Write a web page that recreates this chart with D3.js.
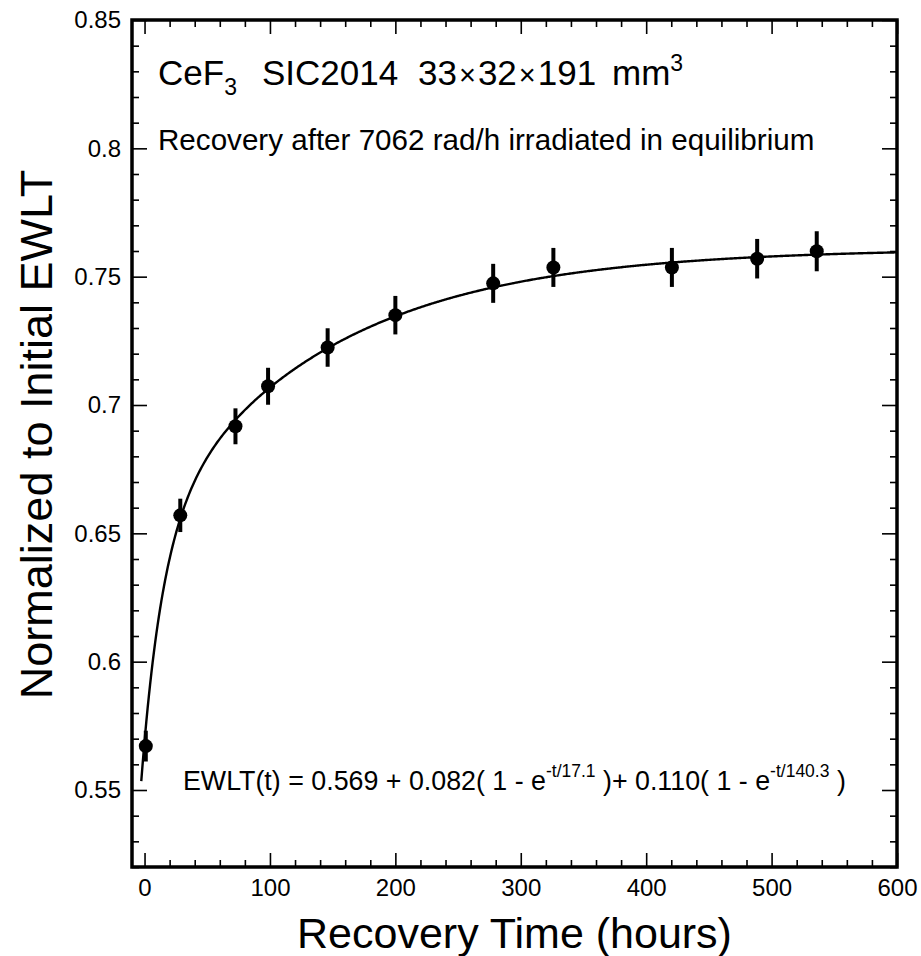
<!DOCTYPE html>
<html lang="en">
<head>
  <meta charset="UTF-8">
  <title>CeF3 recovery</title>
  <style>
    body { margin: 0; background: #fff; }
    text { font-family: "Liberation Sans", Arial, sans-serif; fill: #000; }
  </style>
</head>
<body>
<svg id="svg" width="921" height="956"></svg>
<script src="https://d3js.org/d3.v7.min.js"></script>
<script>
// data
const hours = [1, 28.5, 72.5, 98.5, 146, 200, 278, 326, 420.5, 488.5, 536]
const ewlt = [0.5671, 0.6570, 0.6917, 0.7073, 0.7224, 0.7350, 0.7474, 0.7536, 0.7536, 0.7570, 0.7599]
const errs = [0.006, 0.0065, 0.007, 0.0072, 0.0075, 0.0075, 0.0076, 0.0076, 0.0076, 0.0077, 0.0078]
// fit parameters printed on the chart: a0, a1, tau1, a2, tau2
const fitParams = [0.569, 0.082, 17.1, 0.110, 140.3]
const xTicks = [0, 100, 200, 300, 400, 500, 600]
const yTicks = [0.55, 0.6, 0.65, 0.7, 0.75, 0.8, 0.85]

const margin = { left: 132, top: 20, right: 24, bottom: 89 }
const W = 921, H = 956
const w = W - margin.left - margin.right
const h = H - margin.top - margin.bottom

const svg = d3.select('#svg')
const g = svg.append('g').attr('transform', `translate(${margin.left},${margin.top})`)

const x = d3.scaleLinear().domain([-10, 600]).range([0, w])
const y = d3.scaleLinear().domain([0.52, 0.85]).range([h, 0])

const xMinor = d3.range(0, 601, 20).filter(v => v % 100 !== 0)
const yMinor = d3.range(0.52, 0.851, 0.01).map(v => +v.toFixed(2)).filter(v => !yTicks.includes(v))

// minor ticks, all four sides, pointing inward
g.append('g').attr('transform', `translate(0,${h})`)
  .call(d3.axisBottom(x).tickValues(xMinor).tickSize(-7).tickFormat(''))
g.append('g')
  .call(d3.axisTop(x).tickValues(xMinor).tickSize(-7).tickFormat(''))
g.append('g')
  .call(d3.axisLeft(y).tickValues(yMinor).tickSize(-7).tickFormat(''))
g.append('g').attr('transform', `translate(${w},0)`)
  .call(d3.axisRight(y).tickValues(yMinor).tickSize(-7).tickFormat(''))

// major ticks
g.append('g').attr('transform', `translate(0,${h})`)
  .call(d3.axisBottom(x).tickValues(xTicks).tickSize(-14).tickPadding(12).tickFormat(d3.format('d')))
  .call(a => a.selectAll('text').style('font-size', '24px').attr('dy', '0.72em'))
g.append('g')
  .call(d3.axisTop(x).tickValues(xTicks).tickSize(-14).tickFormat(''))
g.append('g')
  .call(d3.axisLeft(y).tickValues(yTicks).tickSize(-15).tickPadding(11).tickFormat(d => String(d)))
  .call(a => a.selectAll('text').style('font-size', '24px'))
g.append('g').attr('transform', `translate(${w},0)`)
  .call(d3.axisRight(y).tickValues(yTicks).tickSize(-15).tickFormat(''))

g.selectAll('.domain').remove()
g.selectAll('.tick line').attr('stroke', '#000').attr('stroke-width', 1.6)
g.selectAll('.tick text').attr('fill', '#000').style('font-family', '"Liberation Sans", Arial, sans-serif')

// frame
g.append('rect')
  .attr('width', w).attr('height', h)
  .attr('fill', 'none').attr('stroke', '#000').attr('stroke-width', 3.5)

// fit curve from the printed equation
const fit = t => fitParams[0] + fitParams[1] * (1 - Math.exp(-t / fitParams[2])) + fitParams[3] * (1 - Math.exp(-t / fitParams[4]))
const tGrid = d3.range(-2.6, 600.01, 1)
g.append('path')
  .attr('d', d3.line().x(t => x(t)).y(t => y(fit(t))).curve(d3.curveMonotoneX)(tGrid))
  .attr('fill', 'none').attr('stroke', '#000').attr('stroke-width', 2.4)

const pts = hours.map((t, i) => ({ t: t, v: ewlt[i], e: errs[i] }))
const pg = g.append('g')
pg.selectAll('line').data(pts).enter().append('line')
  .attr('x1', d => x(d.t)).attr('x2', d => x(d.t))
  .attr('y1', d => y(d.v - d.e)).attr('y2', d => y(d.v + d.e))
  .attr('stroke', '#000').attr('stroke-width', 4)
pg.selectAll('circle').data(pts).enter().append('circle')
  .attr('cx', d => x(d.t)).attr('cy', d => y(d.v)).attr('r', 7)
  .attr('fill', '#000')

// axis titles
svg.append('text')
  .attr('x', margin.left + w / 2).attr('y', 948)
  .attr('text-anchor', 'middle').style('font-size', '43px')
  .text('Recovery Time (hours)')
svg.append('text')
  .attr('transform', `translate(52,${margin.top + h / 2 - 9}) rotate(-90)`)
  .attr('text-anchor', 'middle').style('font-size', '45px')
  .text('Normalized to Initial EWLT')

// annotations
const title = svg.append('text').attr('y', 85).style('font-size', '35px')
title.append('tspan').attr('x', 158).text('CeF')
title.append('tspan').attr('dy', 10).style('font-size', '23px').text('3')
title.append('tspan').attr('x', 262).attr('dy', -10).text('SIC2014')
title.append('tspan').attr('x', 418).text('33')
title.append('tspan').attr('dx', 2).style('font-size', '29px').text('\u00d7')
title.append('tspan').attr('dx', 2).text('32')
title.append('tspan').attr('dx', 2).style('font-size', '29px').text('\u00d7')
title.append('tspan').attr('dx', 2).text('191')
title.append('tspan').attr('x', 612).text('mm')
title.append('tspan').attr('dy', -14).style('font-size', '23px').text('3')

svg.append('text').attr('x', 158).attr('y', 150).style('font-size', '29.6px')
  .text('Recovery after 7062 rad/h irradiated in equilibrium')

const eq = svg.append('text').attr('x', 183).attr('y', 790).style('font-size', '26.8px')
eq.append('tspan').text('EWLT(t) = 0.569 + 0.082( 1 - e')
eq.append('tspan').attr('dy', -13).style('font-size', '17.5px').text('-t/17.1')
eq.append('tspan').attr('dy', 13).text('\u00a0)+ 0.110( 1 - e')
eq.append('tspan').attr('dy', -13).style('font-size', '17.5px').text('-t/140.3')
eq.append('tspan').attr('dy', 13).text('\u00a0)')
</script>
</body>
</html>
